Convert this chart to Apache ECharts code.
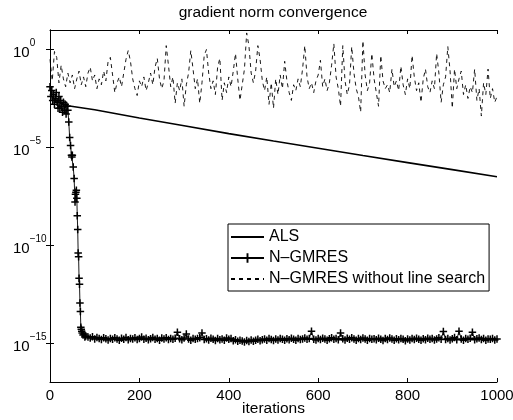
<!DOCTYPE html>
<html><head><meta charset="utf-8">
<script src="https://cdn.jsdelivr.net/npm/echarts@6/dist/echarts.min.js"></script>
<style>html,body{margin:0;padding:0;background:#fff}#c{width:513px;height:420px}</style>
</head><body><div id="c"></div>
<script>
// ---- data (y values stored as log10 exponents) ----
const titleText = 'gradient norm convergence';
const xName = 'iterations';
const seriesNames = ['ALS', 'N\u2013GMRES', 'N\u2013GMRES without line search'];
const xTicks = [0, 200, 400, 600, 800, 1000];
const yTickExponents = [0, -5, -10, -15];

const alsIter  = [0, 10, 20, 40, 100, 200, 300, 400, 500, 600, 700, 800, 900, 1000];
const alsLog10 = [-2.3, -2.55, -2.7, -2.87, -3.08, -3.5, -3.9, -4.3, -4.68, -5.05, -5.42, -5.78, -6.14, -6.5];

const ngmresStartIter = [0,2,4,6,8,10,12,14,16,18,20,22,24,26,28,30,32,34,36,38,40,42,44,46,48,49,50,52,54,56,57,58,59,60,61,62,63,64,65,66,67,68,69,70,71,72,74,76,78,80];
const ngmresStartLog10 = [-1.9,-2.4,-2.1,-2.6,-2.3,-2.8,-2.5,-2.2,-2.7,-3.0,-2.4,-3.0,-2.6,-2.9,-3.2,-2.7,-3.1,-2.8,-3.3,-2.9,-3.1,-3.7,-4.5,-4.9,-5.4,-5.5,-5.4,-6.0,-6.6,-7.8,-7.4,-7.3,-7.2,-7.6,-8.5,-9.2,-10.4,-10.6,-11.7,-12.0,-12.96,-13.4,-14.2,-14.3,-14.4,-14.5,-14.6,-14.55,-14.7,-14.65];
// floor part: iterations 85, 90, ..., 1000
const ngmresFloorFirstIter = 85;
const ngmresFloorStep = 5;
const ngmresFloorLog10 = [
-14.70,-14.75,-14.68,-14.80,-14.72,-14.78,-14.83,-14.74,-14.79,-14.85,
-14.77,-14.82,-14.74,-14.80,-14.86,-14.76,-14.81,-14.73,-14.84,-14.78,
-14.80,-14.74,-14.83,-14.77,-14.70,-14.81,-14.76,-14.84,-14.79,-14.73,
-14.82,-14.78,-14.86,-14.75,-14.80,-14.74,-14.83,-14.77,-14.81,-14.76,
-14.45,-14.79,-14.84,-14.75,-14.55,-14.80,-14.86,-14.77,-14.82,-14.78,
-14.74,-14.50,-14.83,-14.79,-14.85,-14.76,-14.81,-14.88,-14.78,-14.84,
-14.80,-14.86,-14.75,-14.82,-14.78,-14.89,-14.84,-14.92,-14.86,-14.90,
-14.95,-14.88,-14.93,-14.85,-14.91,-14.87,-14.82,-14.89,-14.84,-14.80,
-14.86,-14.78,-14.83,-14.88,-14.80,-14.85,-14.77,-14.82,-14.87,-14.79,
-14.84,-14.76,-14.81,-14.86,-14.78,-14.83,-14.80,-14.75,-14.82,-14.77,
-14.40,-14.81,-14.85,-14.78,-14.83,-14.76,-14.80,-14.86,-14.79,-14.74,
-14.82,-14.77,-14.84,-14.50,-14.79,-14.85,-14.76,-14.81,-14.74,-14.80,
-14.86,-14.78,-14.83,-14.75,-14.80,-14.87,-14.77,-14.82,-14.79,-14.84,
-14.76,-14.81,-14.88,-14.78,-14.83,-14.75,-14.80,-14.86,-14.79,-14.84,
-14.77,-14.82,-14.89,-14.80,-14.85,-14.78,-14.83,-14.76,-14.81,-14.87,
-14.79,-14.84,-14.76,-14.82,-14.78,-14.85,-14.80,-14.74,-14.81,-14.42,
-14.83,-14.77,-14.85,-14.79,-14.72,-14.84,-14.40,-14.80,-14.86,-14.78,
-14.82,-14.76,-14.45,-14.84,-14.79,-14.75,-14.83,-14.78,-14.86,-14.80,
-14.82,-14.77,-14.85,-14.80
];

// dashed series: iterations 0, 5, ..., 1000
const dashedStep = 5;
const dashedLog10 = [
-0.5,-1.6,-0.1,-0.4,-1.7,-0.8,-1.5,-1.9,-1.2,-1.7,-1.3,-2.0,-1.5,-1.1,-1.8,-1.4,-1.9,-1.2,-0.9,-1.6,-1.3,
-2.0,-1.5,-1.8,-1.1,-1.6,-0.6,-0.4,-1.3,-2.2,-1.7,-1.4,-1.9,-1.2,-0.5,-0.05,-0.6,-1.5,-2.0,-2.35,-1.6,
-1.9,-1.4,-2.1,-1.7,-1.2,-1.8,-0.9,-0.45,-1.5,-2.0,-1.6,0.2,-0.8,-1.9,-1.4,-2.75,-1.7,-2.1,-1.5,-2.9,
-1.8,-1.2,-0.05,-1.0,-2.0,-1.5,-2.75,-1.7,-0.3,0.0,-1.2,-2.0,-1.6,-2.3,-0.9,-0.45,-2.6,-1.7,-2.2,-1.4,
-1.9,-1.1,-0.2,-1.5,-2.6,-1.8,-1.0,0.85,0.2,-1.2,-1.7,-1.1,0.2,-0.5,-1.6,-2.1,-1.4,-2.8,-1.7,-3.0,
-1.5,-2.3,-1.3,-2.0,-0.6,-1.6,-2.2,-2.6,-1.8,-2.1,-1.5,-1.9,-1.0,0.2,-1.4,-2.0,-1.7,-2.2,-1.6,-1.3,
-0.55,-1.9,-1.5,-2.1,-1.7,-0.8,0.3,-1.4,-2.0,-2.9,0.2,-1.6,-2.3,-1.8,0.15,-1.2,-2.0,-2.4,-3.2,0.45,
-1.3,-2.1,-1.7,-0.2,-1.5,-2.2,-2.9,-0.3,-1.6,-2.0,-1.8,-2.2,-1.0,-1.9,-1.6,-2.1,-0.85,-1.8,-2.3,-1.5,
-2.0,-0.3,-1.4,-2.1,-1.7,-2.7,-1.5,-1.0,-1.9,-2.2,-1.6,-2.0,-0.2,-1.2,-2.7,-1.8,-1.4,0.15,-1.1,-3.0,
-1.0,-2.0,-1.5,-1.1,-2.3,-1.8,-2.5,-1.9,-2.2,-1.0,-2.6,-2.0,-3.4,-1.7,-2.3,-1.0,-2.5,-2.0,-2.7,-2.4
];

// ---- build series data ----
const p10 = e => Math.pow(10, e);
const alsData = alsIter.map((x, i) => [x, p10(alsLog10[i])]);
const ngmresData = ngmresStartIter.map((x, i) => [x, p10(ngmresStartLog10[i])])
  .concat(ngmresFloorLog10.map((e, i) => [ngmresFloorFirstIter + i * ngmresFloorStep, p10(e)]));
const dashedData = dashedLog10.map((e, i) => [i * dashedStep, p10(e)]);
const yTickValues = yTickExponents.map(p10);

const FONT = '"Liberation Sans", Arial, Helvetica, sans-serif';
const plusSymbol = 'path://M3.2,0H4.8V8H3.2ZM0,3.2H8V4.8H0Z';

const chart = echarts.init(document.getElementById('c'), null, {renderer: 'canvas'});
const axisLineStyle = {lineStyle: {color: '#000', width: 1}};
const tickStyle = {inside: true, length: 4, lineStyle: {color: '#000', width: 1}};

chart.setOption({
  animation: false,
  backgroundColor: '#fff',
  textStyle: {fontFamily: FONT, color: '#000'},
  title: {
    text: titleText, left: 273, top: 5, textAlign: 'center', padding: 0,
    textStyle: {fontFamily: FONT, fontSize: 15.5, fontWeight: 'normal', color: '#000'}
  },
  grid: {left: 50, right: 16, top: 30, bottom: 38, containLabel: false, outerBoundsMode: 'none'},
  legend: {
    data: [
      {name: seriesNames[0], itemStyle: {opacity: 0}},
      {name: seriesNames[1]},
      {name: seriesNames[2], itemStyle: {opacity: 0}}
    ],
    orient: 'vertical', left: 228, top: 224,
    backgroundColor: '#fff', borderColor: '#000', borderWidth: 1, borderRadius: 0,
    padding: [5, 4, 4, 2], itemGap: 5, itemWidth: 33, itemHeight: 12,
    textStyle: {fontFamily: FONT, fontSize: 16, color: '#000'}
  },
  xAxis: [{
    type: 'value', min: 0, max: 1000, interval: 200, position: 'bottom',
    name: xName, nameLocation: 'middle', nameGap: 19, nameMoveOverlap: false,
    nameTextStyle: {fontFamily: FONT, fontSize: 15.5, color: '#000', verticalAlign: 'top'},
    axisLine: axisLineStyle, axisTick: tickStyle,
    axisLabel: {fontFamily: FONT, fontSize: 15, color: '#000', margin: 6, formatter: v => String(v)},
    splitLine: {show: false}
  }, {
    type: 'value', min: 0, max: 1000, interval: 200, position: 'top',
    axisLine: axisLineStyle, axisTick: tickStyle,
    axisLabel: {show: false}, splitLine: {show: false}
  }],
  yAxis: [{
    type: 'log', logBase: 10, min: 1e-17, max: 1e1, position: 'left',
    axisLine: {show: true, lineStyle: {color: '#000', width: 1}},
    axisTick: Object.assign({customValues: yTickValues}, tickStyle),
    axisLabel: {
      customValues: yTickValues, align: 'left', margin: 37,
      formatter: v => {
        const e = Math.round(Math.log10(v));
        return '{b|10}{s|' + (e < 0 ? '\u2212' + (-e) : String(e)) + '}';
      },
      rich: {
        b: {fontFamily: FONT, fontSize: 15, lineHeight: 22, verticalAlign: 'bottom', color: '#000'},
        s: {fontFamily: FONT, fontSize: 10, lineHeight: 10, verticalAlign: 'top', color: '#000'}
      }
    },
    splitLine: {show: false}
  }, {
    type: 'log', logBase: 10, min: 1e-17, max: 1e1, position: 'right',
    axisLine: {show: true, lineStyle: {color: '#000', width: 1}},
    axisTick: Object.assign({customValues: yTickValues}, tickStyle),
    axisLabel: {show: false}, splitLine: {show: false}
  }],
  series: [{
    name: seriesNames[0], type: 'line', data: alsData, symbol: 'none',
    lineStyle: {color: '#000', width: 1.6}, itemStyle: {color: '#000'}, z: 3
  }, {
    name: seriesNames[1], type: 'line', data: ngmresData,
    symbol: plusSymbol, symbolSize: 7.5, showSymbol: true,
    lineStyle: {color: '#000', width: 0.9}, itemStyle: {color: '#000'}, z: 2
  }, {
    name: seriesNames[2], type: 'line', data: dashedData, symbol: 'none',
    lineStyle: {color: '#000', width: 0.9, type: [4, 4]}, itemStyle: {color: '#000'}, z: 4
  }]
});
</script></body></html>
